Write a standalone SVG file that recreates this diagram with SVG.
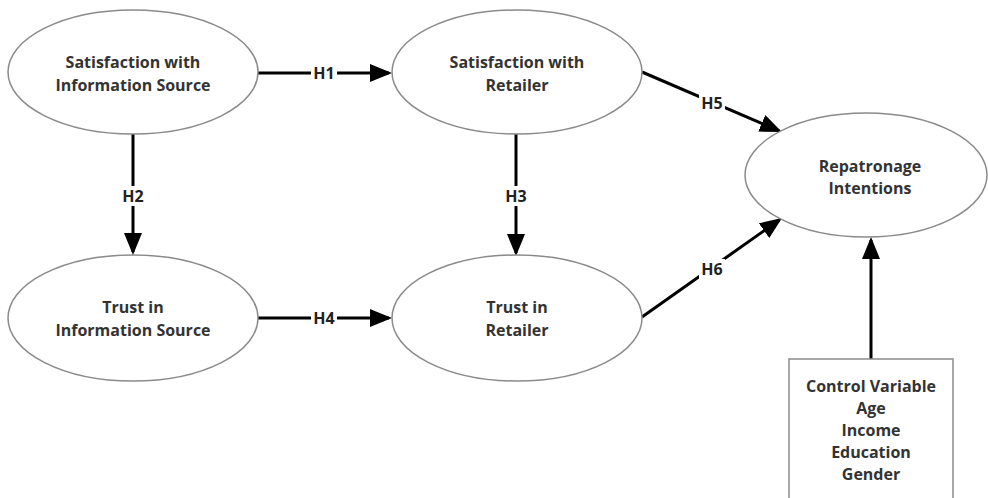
<svg xmlns="http://www.w3.org/2000/svg" width="988" height="498" viewBox="0 0 988 498">
<defs>
<style>
.node{fill:#fff;stroke:#8a8a8a;stroke-width:1.5}
.t{font-family:"Open Sans","Noto Sans","Liberation Sans",sans-serif;font-weight:700;font-size:16px;fill:#333;text-anchor:middle}
.lbl{font-family:"Open Sans","Noto Sans","Liberation Sans",sans-serif;font-weight:700;font-size:16px;fill:#222;text-anchor:middle;dominant-baseline:central}
.edge{fill:none;stroke:#000;stroke-width:3;marker-end:url(#ah)}
.lblbg{fill:#fff}
</style>
<marker id="ah" markerUnits="userSpaceOnUse" markerWidth="22" markerHeight="18" refX="19" refY="9" orient="auto">
<path d="M0,0 L22,9 L0,18 z" fill="#000"/>
</marker>
</defs>
<rect width="988" height="498" fill="#fff"/>
<g id="connectors">
<path class="edge" d="M258,73 L389,73"/>
<path class="edge" d="M133,134 L133,252"/>
<path class="edge" d="M516,134 L516,253"/>
<path class="edge" d="M258,318 L389,318"/>
<path class="edge" d="M642,72 L779.2,130.8"/>
<path class="edge" d="M642,317 L779.6,219.7"/>
<path class="edge" d="M871,359 L871,240"/>
<rect class="lblbg" x="311" y="63" width="26" height="20"/>
<text class="lbl" x="324" y="73">H1</text>
<rect class="lblbg" x="120" y="186" width="26" height="20"/>
<text class="lbl" x="133" y="196">H2</text>
<rect class="lblbg" x="503" y="186" width="26" height="20"/>
<text class="lbl" x="516" y="196">H3</text>
<rect class="lblbg" x="311" y="308" width="26" height="20"/>
<text class="lbl" x="324" y="318">H4</text>
<rect class="lblbg" x="699" y="93" width="26" height="20"/>
<text class="lbl" x="712" y="103">H5</text>
<rect class="lblbg" x="699" y="259" width="26" height="20"/>
<text class="lbl" x="712" y="269">H6</text>
</g>
<g id="sat-info">
<ellipse class="node" cx="133" cy="72" rx="125" ry="62"/>
<text class="t" x="133" y="68">Satisfaction with</text>
<text class="t" x="133" y="91">Information Source</text>
</g>
<g id="sat-retailer">
<ellipse class="node" cx="517" cy="72" rx="125" ry="62"/>
<text class="t" x="517" y="68">Satisfaction with</text>
<text class="t" x="517" y="91">Retailer</text>
</g>
<g id="trust-info">
<ellipse class="node" cx="133" cy="318" rx="125" ry="63"/>
<text class="t" x="133" y="313">Trust in</text>
<text class="t" x="133" y="336">Information Source</text>
</g>
<g id="trust-retailer">
<ellipse class="node" cx="517" cy="318" rx="125" ry="63"/>
<text class="t" x="517" y="313">Trust in</text>
<text class="t" x="517" y="336">Retailer</text>
</g>
<g id="repatronage">
<ellipse class="node" cx="866" cy="175" rx="121" ry="62"/>
<text class="t" x="870" y="172">Repatronage</text>
<text class="t" x="870" y="194">Intentions</text>
</g>
<g id="control">
<rect class="node" x="789" y="359" width="164" height="150"/>
<text class="t" x="871" y="392">Control Variable</text>
<text class="t" x="871" y="414">Age</text>
<text class="t" x="871" y="436">Income</text>
<text class="t" x="871" y="458">Education</text>
<text class="t" x="871" y="480">Gender</text>
</g>
</svg>
